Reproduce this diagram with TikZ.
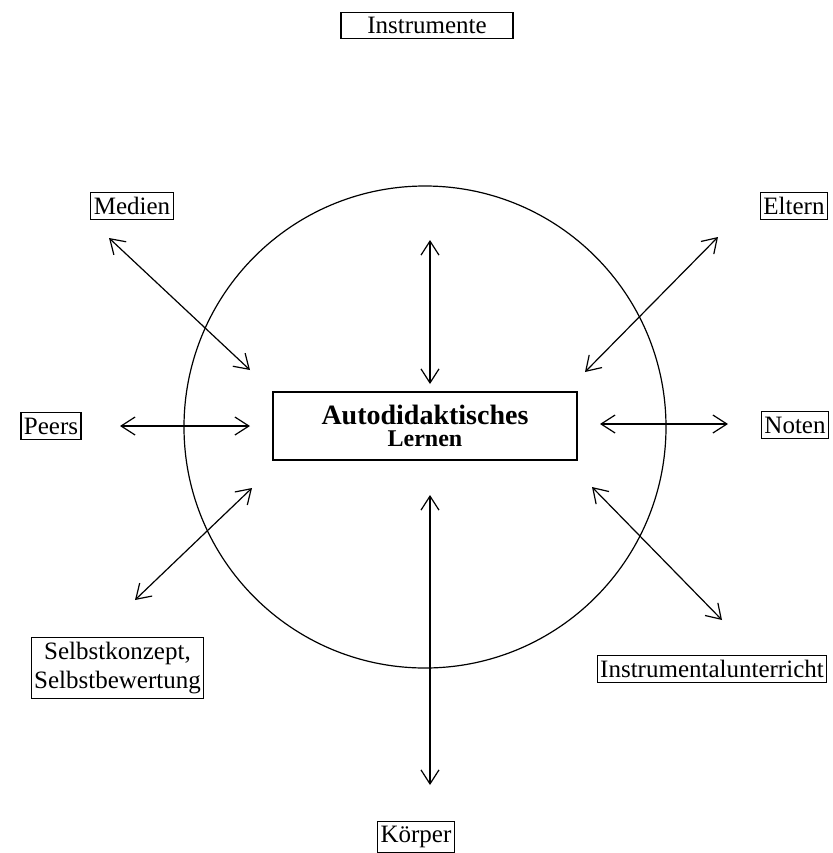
\documentclass[tikz,border=0pt]{standalone}
\usepackage{fontspec}
\setmainfont{Liberation Serif}
\usetikzlibrary{arrows.meta,positioning}

\begin{document}
\begin{tikzpicture}[x=0.5pt,y=-0.5pt,
   lab/.style={draw,line width=0.6pt,inner xsep=1.5pt,inner ysep=2.5pt,
               font=\fontsize{12.5}{14.5}\selectfont,align=center},
   link/.style={{Straight Barb[length=7pt,width=9pt]}-{Straight Barb[length=7pt,width=9pt]},
               line width=0.6pt}]
   \useasboundingbox (0,0) rectangle (833,853);
   \draw[line width=0.6pt] (425,427) circle[radius=120.5pt];
   % centre
   \node[draw,line width=0.6pt,minimum width=152pt,minimum height=34pt,align=center,inner sep=1pt]
        (auto) at (425,426) {\fontsize{14}{16}\selectfont\bfseries Autodidaktisches\\[-1pt]
                             \fontsize{12}{14}\selectfont\bfseries Lernen};
   % factors
   \node[lab,minimum width=86pt] (ins) at (427,25.5) {Instrumente};
   \node[lab] (med) at (132,206) {Medien};
   \node[lab] (elt) at (794,206) {Eltern};
   \node[lab] (peer) at (51,426) {Peers};
   \node[lab] (not) at (795,425) {Noten};
   \node[lab] (sel) at (117.5,668) {Selbstkonzept,\\Selbstbewertung};
   \node[lab] (unt) at (712,669) {Instrumentalunterricht};
   \node[lab] (koe) at (416,837) {Körper};
   % arrow ends
   \coordinate (ins_a) at (430,240);  \coordinate (ins_b) at (430,384);
   \coordinate (koe_a) at (430,495);  \coordinate (koe_b) at (430,785);
   \coordinate (med_a) at (109,238);  \coordinate (med_b) at (250,370);
   \coordinate (elt_a) at (718,237);  \coordinate (elt_b) at (585,372);
   \coordinate (peer_a) at (120,426); \coordinate (peer_b) at (250,426);
   \coordinate (not_a) at (600,424);  \coordinate (not_b) at (728,424);
   \coordinate (sel_a) at (135,600);  \coordinate (sel_b) at (252,488);
   \coordinate (unt_a) at (592,487);  \coordinate (unt_b) at (722,620);
   \path[link]
    (ins_a) edge (ins_b)
    (koe_a) edge (koe_b)
    (med_a) edge (med_b)
    (elt_a) edge (elt_b)
    (peer_a) edge (peer_b)
    (not_a) edge (not_b)
    (sel_a) edge (sel_b)
    (unt_a) edge (unt_b);
\end{tikzpicture}
\end{document}
